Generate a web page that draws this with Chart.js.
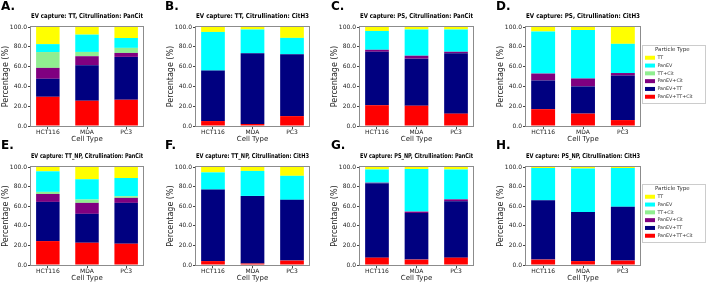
<!DOCTYPE html>
<html>
<head>
<meta charset="utf-8">
<script src="https://cdn.jsdelivr.net/npm/chart.js@4.4.1/dist/chart.umd.min.js"></script>
<style>
    html, body { margin: 0; padding: 0; background: #fff; }
    body { position: relative; width: 709px; height: 283px; overflow: hidden; font-family: 'DejaVu Sans', sans-serif; }
    canvas { position: absolute; }
    .letter { position: absolute; font-size: 12px; font-weight: bold; line-height: 12px; color: #000; }
</style>
</head>
<body>
<script>
// 类别和标签
const cellTypes = ['HCT116', 'MDA', 'PC3'];
const particleTypes = ['PanEV+TT+Cit', 'PanEV+TT', 'PanEV+Cit', 'TT+Cit', 'PanEV', 'TT'];
const panelLetters = ['A.', 'B.', 'C.', 'D.', 'E.', 'F.', 'G.', 'H.'];
const captures = ['TT', 'TT', 'PS', 'PS', 'TT_NP', 'TT_NP', 'PS_NP', 'PS_NP'];
const citrullinations = ['PanCit', 'CitH3', 'PanCit', 'CitH3', 'PanCit', 'CitH3', 'PanCit', 'CitH3'];
const yTicks = [0, 20, 40, 60, 80, 100];

// 每行一个子图 (A..H)，顺序 HCT116, MDA, PC3，单位 %
const panEvTtCit = [
    [29.5, 25.5, 26.5], [5, 2, 10], [21, 20.5, 12.5], [17, 12.5, 6],
    [24.4, 22.7, 21.7], [4, 1.5, 4.5], [7.5, 5.5, 7.5], [5.5, 4, 4.5]
];
const panEvTt = [
    [18.2, 35.9, 43.3], [51, 71.5, 62.5], [54, 47.5, 61], [29, 27.5, 45],
    [40, 29.5, 41.7], [73, 69, 62], [76, 47.5, 57.5], [60.5, 50, 55]
];
const panEvCit = [
    [11, 9.1, 4], [0, 0, 0], [2, 3, 1.5], [7, 8, 2.5],
    [8.1, 11.2, 5.1], [0, 0, 0], [0.5, 1.5, 2], [0, 0, 0]
];
const ttCit = [
    [16, 4.3, 5.1], [0, 0, 0], [0, 0, 0], [0, 0, 0],
    [2.1, 3.4, 1.7], [0, 0, 0], [0, 0, 0], [0, 0, 0]
];
const panEv = [
    [8, 17.5, 10], [39, 24, 16.5], [19, 26.5, 22.5], [42.5, 49, 29.5],
    [21, 20.7, 18.6], [17.5, 25.5, 24.5], [13.5, 43.5, 30.5], [33, 44.5, 39.5]
];
const tt = [
    [17.3, 7.7, 11.1], [5, 2.5, 11], [4, 2.5, 2.5], [4.5, 3, 17],
    [4.4, 12.5, 11.2], [5.5, 4, 9], [2.5, 2, 2.5], [1, 1.5, 1]
];

// 颜色
const particleColors = ['#ff0000', '#000080', '#800080', '#90ee90', '#00ffff', '#ffff00'];

// 布局 (像素)
const plotLefts = [31, 196, 360, 526];
const plotRights = [143, 309, 473, 640];
const plotTops = [27, 167];
const plotBottoms = [126, 265];
const letterLefts = [1, 165, 331, 496];
const letterTops = [0, 139];
const legendTops = [45, 184];
const Y_AXIS_W = 31;
const TITLE_H = 16;
const X_AXIS_H = 17;
const RIGHT_PAD = 4;
const TITLE_SIZE = 6.6;

Chart.defaults.font.family = "'DejaVu Sans', sans-serif";
Chart.defaults.color = '#222';

// 坐标框
const framePlugin = {
    id: 'framePlugin',
    afterDraw(chart) {
        const { ctx, chartArea: a } = chart;
        ctx.save();
        ctx.strokeStyle = '#8c8c8c';
        ctx.lineWidth = 1;
        ctx.strokeRect(Math.round(a.left) - 0.5, Math.round(a.top) - 0.5, Math.round(a.width) + 1, Math.round(a.height) + 1);
        ctx.restore();
    }
};

// 图例边框
const legendFramePlugin = {
    id: 'legendFramePlugin',
    beforeDraw(chart) {
        const ctx = chart.ctx;
        ctx.save();
        ctx.strokeStyle = '#cccccc';
        ctx.lineWidth = 1;
        ctx.strokeRect(0.5, 0.5, 63, chart.height - 1);
        ctx.restore();
    }
};

// 单独的图例 (只有图例，没有柱子)
function createLegend(row) {
    const canvas = document.createElement('canvas');
    canvas.width = 66;
    canvas.height = 59;
    canvas.style.left = '642px';
    canvas.style.top = legendTops[row] + 'px';
    document.body.appendChild(canvas);

    new Chart(canvas, {
        type: 'bar',
        data: {
            labels: [],
            datasets: particleTypes.map((name, k) => ({ label: name, data: [], backgroundColor: particleColors[k] }))
        },
        plugins: [legendFramePlugin],
        options: {
            responsive: false,
            animation: false,
            devicePixelRatio: 1,
            layout: { padding: 0 },
            scales: { x: { display: false }, y: { display: false } },
            plugins: {
                legend: {
                    position: 'chartArea',
                    reverse: true,
                    labels: { boxWidth: 10, boxHeight: 4, padding: 3, font: { size: 4.8 }, color: '#333' },
                    title: { display: true, text: 'Particle Type', font: { size: 5.5, lineHeight: 1 }, color: '#333', padding: 0 }
                },
                title: { display: false },
                tooltip: { enabled: false }
            }
        }
    });
}

function createPanel(p) {
    const col = p % 4;
    const row = Math.floor(p / 4);
    const hasLegend = col === 3;
    const left = plotLefts[col] - Y_AXIS_W;
    const top = plotTops[row] - TITLE_H;
    const width = hasLegend ? 709 - left : plotRights[col] + RIGHT_PAD - left;
    const height = plotBottoms[row] + X_AXIS_H - top;

    const canvas = document.createElement('canvas');
    canvas.width = width;
    canvas.height = height;
    canvas.style.left = left + 'px';
    canvas.style.top = top + 'px';
    canvas.style.width = width + 'px';
    canvas.style.height = height + 'px';
    document.body.appendChild(canvas);

    const letter = document.createElement('div');
    letter.className = 'letter';
    letter.textContent = panelLetters[p];
    letter.style.left = letterLefts[col] + 'px';
    letter.style.top = letterTops[row] + 'px';
    document.body.appendChild(letter);

    const seriesValues = [panEvTtCit, panEvTt, panEvCit, ttCit, panEv, tt];
    const datasets = particleTypes.map((name, k) => ({
        label: name,
        data: seriesValues[k][p],
        backgroundColor: particleColors[k],
        borderWidth: 0,
        stack: 's'
    }));

    new Chart(canvas, {
        type: 'bar',
        data: { labels: cellTypes.map((c, i) => i), datasets: datasets },
        plugins: [framePlugin],
        options: {
            responsive: false,
            animation: false,
            devicePixelRatio: 1,
            layout: { padding: { left: 0, right: hasLegend ? 709 - plotRights[col] : RIGHT_PAD, top: 0, bottom: 0 } },
            datasets: { bar: { categoryPercentage: 1, barPercentage: 0.6 } },
            plugins: {
                title: {
                    display: true,
                    text: `EV capture: ${captures[p]}, Citrullination: ${citrullinations[p]}`,
                    fullSize: false,
                    color: '#000',
                    font: { size: TITLE_SIZE, weight: 'bold' },
                    padding: { top: 1, bottom: TITLE_H - 1 - TITLE_SIZE * 1.2 }
                },
                legend: { display: false },
                tooltip: { enabled: false }
            },
            scales: {
                x: {
                    type: 'linear',
                    stacked: true,
                    offset: false,
                    min: -0.43,
                    max: 2.43,
                    afterBuildTicks: s => { s.ticks = cellTypes.map((c, i) => ({ value: i })); },
                    afterFit: s => { s.height = X_AXIS_H; },
                    ticks: { callback: v => cellTypes[v], font: { size: 6 }, padding: 0, maxRotation: 0, autoSkip: false },
                    grid: { drawOnChartArea: false, offset: false, tickLength: 3, color: '#444' },
                    border: { display: false },
                    title: { display: true, text: 'Cell Type', font: { size: 7 }, padding: 0 }
                },
                y: {
                    stacked: true,
                    min: 0,
                    max: 100,
                    afterBuildTicks: s => { s.ticks = yTicks.map(v => ({ value: v })); },
                    afterFit: s => { s.width = Y_AXIS_W; },
                    ticks: { callback: v => v.toFixed(1), font: { size: 6 }, padding: 1 },
                    grid: { drawOnChartArea: false, tickLength: 3, color: '#444' },
                    border: { display: false },
                    title: { display: true, text: 'Percentage (%)', font: { size: 8 }, padding: { top: 1, bottom: 0 } }
                }
            }
        }
    });
}

for (let p = 0; p < 8; p++) {
    createPanel(p);
}
createLegend(0);
createLegend(1);
</script>
</body>
</html>
